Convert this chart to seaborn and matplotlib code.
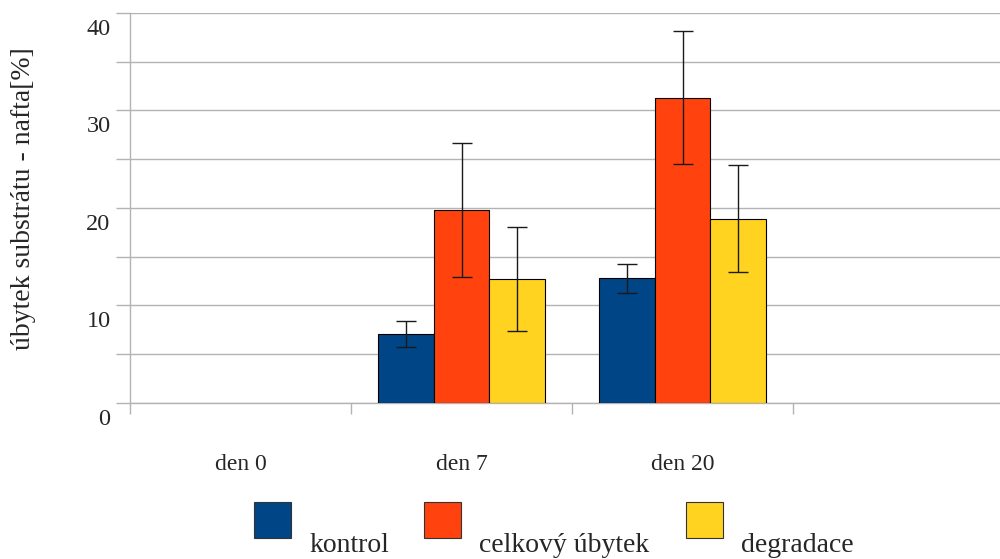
import matplotlib
matplotlib.use("Agg")
import matplotlib.pyplot as plt
import matplotlib.patches as mpatches
import matplotlib.transforms as mtransforms
import seaborn as sns
import pandas as pd
import numpy as np

categories = ["den 0", "den 7", "den 20"]
series = ["kontrol", "celkový úbytek", "degradace"]
kontrol = [0.0, 7.1, 12.8]
celkovy = [0.0, 19.8, 31.3]
degradace = [0.0, 12.7, 18.9]
kontrol_err = [0.0, 1.35, 1.5]
celkovy_err = [0.0, 6.85, 6.8]
degradace_err = [0.0, 5.3, 5.5]
colors = ["#004586", "#ff420e", "#ffd320"]

rows = []
for s, vals, errs in zip(series, [kontrol, celkovy, degradace],
                         [kontrol_err, celkovy_err, degradace_err]):
    for c, v, e in zip(categories, vals, errs):
        rows.append({"den": c, "série": s, "hodnota": v, "chyba": e})
df = pd.DataFrame(rows)

sns.set_style("white")
plt.rcParams["font.family"] = ["Liberation Serif", "DejaVu Serif"]

fig = plt.figure(figsize=(10, 5.59), dpi=100)
ax = fig.add_axes([0.130, 0.2791, 0.884, 0.6977])

sns.barplot(data=df, x="den", y="hodnota", hue="série", order=categories,
            hue_order=series, palette=colors, width=0.755, errorbar=None,
            edgecolor="black", linewidth=0.8, saturation=1, ax=ax, legend=False,
            zorder=3)

bars = [p for p in ax.patches if isinstance(p, mpatches.Rectangle)]
for p in bars:
    h = p.get_height()
    if h == 0 or np.isnan(h):
        p.set_linewidth(0)
for p, (_, r) in zip(bars, df.iterrows()):
    if r["hodnota"] > 0:
        cx = p.get_x() + p.get_width() / 2
        ax.errorbar(cx, r["hodnota"], yerr=r["chyba"], fmt="none",
                    ecolor="#1a1a1a", elinewidth=1.0, capsize=7, capthick=1.0,
                    zorder=4)

ax.set_xlim(-0.5, 3.5)
ax.set_ylim(0, 40)
ax.set_yticks(np.arange(0, 41, 5))
ax.set_yticklabels(["0", "", "10", "", "20", "", "30", "", "40"])
ax.yaxis.grid(True, color="#b3b3b3", linewidth=1.0, zorder=0)
ax.set_axisbelow(True)
ax.tick_params(axis="y", length=10, width=1, color="#b3b3b3", labelsize=17.5,
               pad=4, left=True)
shift = mtransforms.ScaledTranslation(0, -6 / 100, fig.dpi_scale_trans)
for lbl in ax.get_yticklabels():
    lbl.set_verticalalignment("top")
    lbl.set_transform(lbl.get_transform() + shift)

ax.set_xticks(range(len(categories)))
ax.set_xticklabels(categories)
ax.set_xticks(np.arange(-0.5, 3.6, 1.0), minor=True)
ax.tick_params(axis="x", which="major", length=0, labelsize=17, pad=37)
ax.tick_params(axis="x", which="minor", length=8, width=1, color="#b3b3b3",
               bottom=True)

for side in ["top", "right"]:
    ax.spines[side].set_visible(False)
for side in ["left", "bottom"]:
    ax.spines[side].set_color("#b3b3b3")
    ax.spines[side].set_linewidth(1.0)

ax.set_xlabel("")
ax.set_ylabel("úbytek substrátu - nafta[%]", fontsize=20)
ax.yaxis.set_label_coords(-0.106, 0.523)

sq_x = [0.254, 0.424, 0.686]
tx_x = [0.309, 0.479, 0.741]
for s, col, sx, tx in zip(series, colors, sq_x, tx_x):
    fig.patches.append(mpatches.Rectangle((sx, 1 - 538 / 559), 0.037, 36 / 559,
                                          transform=fig.transFigure,
                                          facecolor=col, edgecolor="#333333",
                                          linewidth=0.8))
    fig.text(tx, 1 - 552 / 559, s, fontsize=20, va="baseline", ha="left")

fig.savefig("out.png", dpi=100)
